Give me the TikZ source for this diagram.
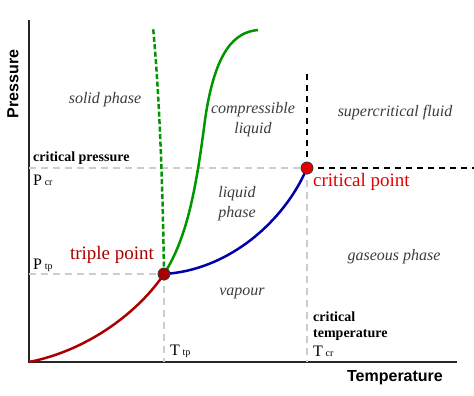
\documentclass[tikz,border=0pt]{standalone}
\usepackage{fontspec}
\setmainfont{Liberation Serif}
\setsansfont{Liberation Sans}
\usetikzlibrary{positioning}

\definecolor{solidgreen}{RGB}{0,150,0}
\definecolor{vapblue}{RGB}{0,0,170}
\definecolor{subred}{RGB}{170,0,0}
\definecolor{guide}{RGB}{205,205,205}
\definecolor{phasetxt}{RGB}{60,60,60}

\begin{document}
\begin{tikzpicture}[
  x=1pt, y=-1pt,
  axis/.style={draw=black!85, line width=1.8pt},
  guideline/.style={draw=guide, dashed, line width=1.2pt, dash pattern=on 7pt off 5pt},
  border/.style={draw=black, dashed, line width=1.5pt, dash pattern=on 6pt off 5pt},
  curve/.style={line width=2.5pt},
  dot/.style={circle, draw=black!80, line width=0.8pt, minimum size=12pt, inner sep=0pt},
  phase/.style={font=\fontsize{16}{20}\selectfont\itshape, text=phasetxt, align=center, inner sep=0pt},
  boldlbl/.style={font=\fontsize{14}{16.5}\selectfont\bfseries, anchor=west, inner sep=0pt, align=left},
  sym/.style={font=\fontsize{16}{18}\selectfont, anchor=west, inner sep=0pt}
]
\useasboundingbox (0,0) rectangle (474,396);

% axes
\coordinate (ytop) at (29,20);
\coordinate (orig) at (29,362);
\coordinate (xend) at (457,362);
\draw[axis] (ytop) -- (orig) -- (xend);
\node[rotate=90, font=\sffamily\bfseries\fontsize{16}{18}\selectfont] (plabel) at (13,84) {Pressure};
\node[font=\sffamily\bfseries\fontsize{16}{18}\selectfont] (tlabel) at (395,378) {Temperature};

% characteristic points
\coordinate (tp) at (164,274);
\coordinate (cp) at (307,168);
\coordinate (pcr) at (29,168);
\coordinate (ptp) at (29,274);
\coordinate (tcr) at (307,362);
\coordinate (ttp) at (164,362);
\coordinate (cptop) at (307,70);
\coordinate (cpright) at (474,168);

% guide lines
\draw[guideline] (pcr) -- (cp);
\draw[guideline] (ptp) -- (tp);
\draw[guideline] (tp) -- (ttp);
\draw[guideline] (cp) -- (tcr);

% supercritical border
\draw[border] (cp) -- (cptop);
\draw[border] (cp) -- (cpright);

% phase boundaries
\draw[curve, subred] (orig) .. controls (90,350) and (140,310) .. (tp);
\draw[curve, vapblue] (tp) .. controls (230,270) and (285,220) .. (cp);
\draw[curve, solidgreen] (tp) .. controls (187,238) and (196,190) .. (205,120)
  .. controls (215,50) and (235,32) .. (258,30);
\draw[curve, solidgreen, dashed, dash pattern=on 5pt off 2.5pt] (tp) .. controls (163,200) and (160,100) .. (153,27);

\node[dot, fill=subred] (tpdot) at (tp) {};
\node[dot, fill=red!90!black] (cpdot) at (cp) {};

% labels
\node[font=\fontsize{19}{21}\selectfont, text=subred] (tptxt) at (112,255) {triple point};
\node[font=\fontsize{19}{21}\selectfont, text=red!90!black, anchor=west, inner sep=0pt] (cptxt) at (313,182) {critical point};
\node[boldlbl] (pcrtxt) at (33,158) {critical pressure};
\node[sym] (pcrsym) at (33,180) {P\,{\fontsize{10}{12}\selectfont cr}};
\node[sym] (ptpsym) at (33,265) {P\,{\fontsize{10}{12}\selectfont tp}};
\node[sym] (ttpsym) at (170,351) {T\,{\fontsize{10}{12}\selectfont tp}};
\node[boldlbl] (tcrtxt) at (313,326) {critical\\temperature};
\node[sym] (tcrsym) at (313,351) {T\,{\fontsize{10}{12}\selectfont cr}};

\node[phase] (solid) at (105,100) {solid phase};
\node[phase] (compr) at (253,120) {compressible\\liquid};
\node[phase] (superc) at (395,113) {supercritical fluid};
\node[phase] (liquid) at (237,204) {liquid\\phase};
\node[phase] (gas) at (394,257) {gaseous phase};
\node[phase] (vap) at (242,293) {vapour};
\end{tikzpicture}
\end{document}
